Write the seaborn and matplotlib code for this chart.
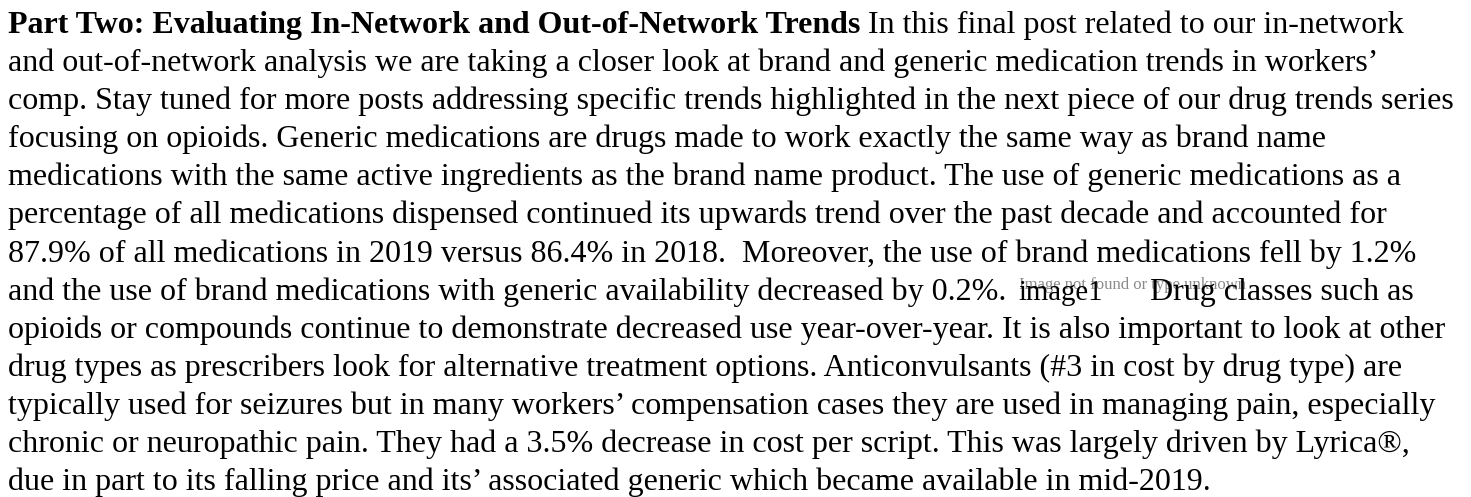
import matplotlib
matplotlib.use("Agg")
import matplotlib.pyplot as plt
import seaborn as sns

sns.set_theme(style="white")
plt.rcParams["font.family"] = ["Liberation Serif", "DejaVu Serif"]

W, H = 1471, 497
FONT_PX = 32
LEFT_PX = 8
FIRST_BASE_PX = 33
LINE_PX = 38.1

# paragraph text, one entry per rendered line
heading = "Part Two: Evaluating In-Network and Out-of-Network Trends"
lines = [
    " In this final post related to our in-network",
    "and out-of-network analysis we are taking a closer look at brand and generic medication trends in workers\u2019",
    "comp. Stay tuned for more posts addressing specific trends highlighted in the next piece of our drug trends series",
    "focusing on opioids. Generic medications are drugs made to work exactly the same way as brand name",
    "medications with the same active ingredients as the brand name product. The use of generic medications as a",
    "percentage of all medications dispensed continued its upwards trend over the past decade and accounted for",
    "87.9% of all medications in 2019 versus 86.4% in 2018.  Moreover, the use of brand medications fell by 1.2%",
    "and the use of brand medications with generic availability decreased by 0.2%. ",
    "opioids or compounds continue to demonstrate decreased use year-over-year. It is also important to look at other",
    "drug types as prescribers look for alternative treatment options. Anticonvulsants (#3 in cost by drug type) are",
    "typically used for seizures but in many workers\u2019 compensation cases they are used in managing pain, especially",
    "chronic or neuropathic pain. They had a 3.5% decrease in cost per script. This was largely driven by Lyrica\u00ae,",
    "due in part to its falling price and its\u2019 associated generic which became available in mid-2019.",
]
image_alt = "image1"
image_missing = "Image not found or type unknown"
after_image = "Drug classes such as"
IMAGE_LINE = 7

fig = plt.figure(figsize=(W / 100, H / 100), dpi=100)
fig.patch.set_facecolor("white")
renderer = fig.canvas.get_renderer()
pt = FONT_PX * 72 / 100


def put(x_px, base_px, s, **kw):
    t = fig.text(x_px / W, 1 - base_px / H, s, va="baseline", ha="left",
                 color=kw.pop("color", "black"), fontsize=kw.pop("size", pt), **kw)
    return t.get_window_extent(renderer).x1


for i, s in enumerate(lines):
    base = FIRST_BASE_PX + i * LINE_PX
    x = LEFT_PX
    if i == 0:
        x = put(x, base, heading, fontweight="bold")
    x = put(x, base, s)
    if i == IMAGE_LINE:
        # broken image placeholder: grey notice under the alt text
        put(x + 5, base - 11, image_missing, size=pt * 0.52, color="#8a8a8a")
        x_alt = put(x + 4, base, image_alt, size=pt * 0.9)
        put(x_alt + 47, base, after_image)

fig.savefig("out.png", dpi=100)
